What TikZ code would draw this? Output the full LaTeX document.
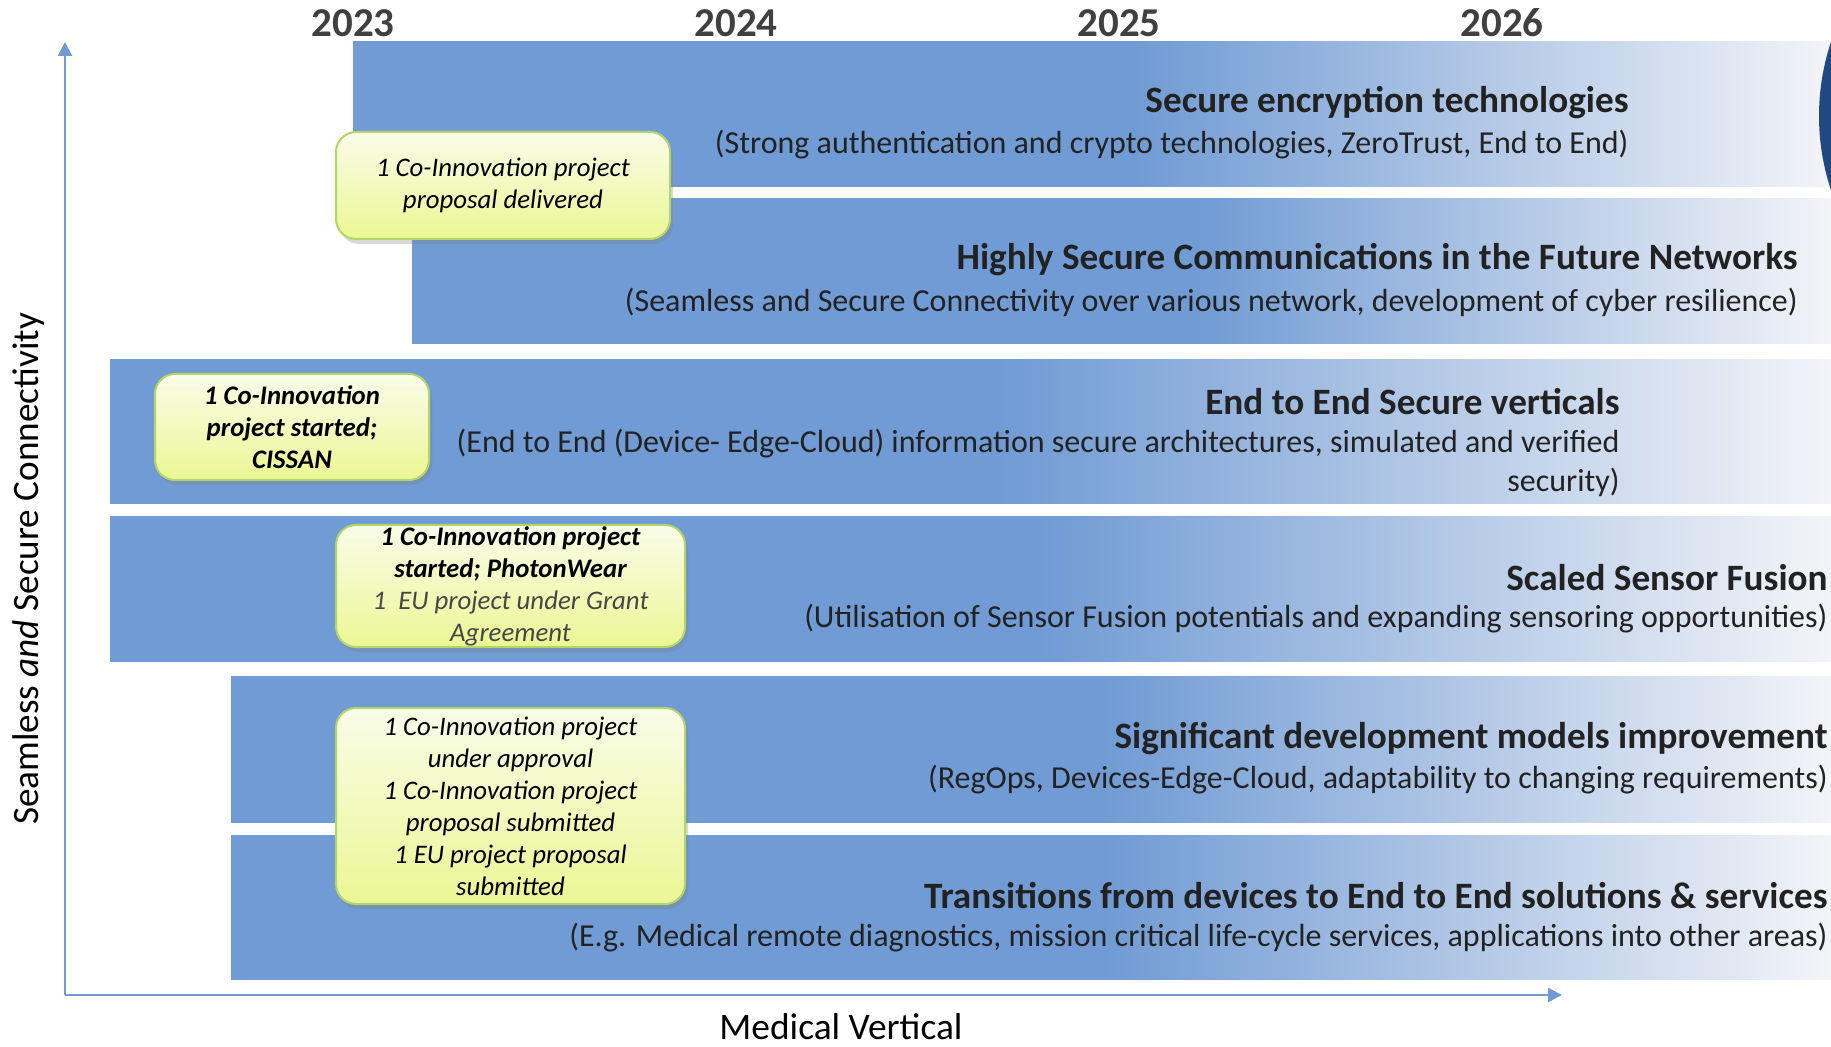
\documentclass[tikz,border=0pt]{standalone}
\usepackage{fontspec}
\setmainfont{Carlito}
\usetikzlibrary{arrows.meta,shadows}

\definecolor{bandblue}{RGB}{112,155,212}
\definecolor{bandlight}{RGB}{243,244,248}
\definecolor{axisblue}{RGB}{111,154,212}
\definecolor{yeargray}{RGB}{64,64,64}
\definecolor{notegreen}{RGB}{178,214,104}
\definecolor{notetop}{RGB}{249,252,232}
\definecolor{notebottom}{RGB}{235,247,148}
\definecolor{darkdisc}{RGB}{33,72,128}
\definecolor{textdark}{RGB}{34,34,34}
\definecolor{notegray}{RGB}{70,70,70}

\tikzset{
  flat/.style={left color=bandblue, right color=bandblue},
  fade/.style={left color=bandblue, right color=bandlight},
  note/.style={draw=notegreen, line width=1pt, rounded corners=10pt,
    top color=notetop, bottom color=notebottom,
    drop shadow={opacity=0.3, shadow xshift=1.5pt, shadow yshift=-2.5pt}},
  notetext/.style={align=center, text=black, inner sep=0pt,
    font=\fontsize{13.4}{16}\selectfont\itshape},
  bandtitle/.style={anchor=east, inner sep=0pt, text=textdark,
    font=\fontsize{18.6}{21}\selectfont\bfseries},
  bandsub/.style={anchor=east, inner sep=0pt, text=textdark, align=right,
    font=\fontsize{16}{19.2}\selectfont},
  year/.style={text=yeargray, font=\fontsize{20.5}{24}\selectfont\bfseries},
  axis/.style={draw=axisblue, line width=1.2pt, -{Triangle[length=7pt,width=7pt]}},
}

\begin{document}
\begin{tikzpicture}[x=0.5pt, y=-0.5pt]
  \useasboundingbox (0,0) rectangle (1831,1047);

  \begin{scope}
    \clip (0,0) rectangle (1831,1047);
    \shade[flat] (353,42) rectangle (1135,187);
    \shade[fade] (1134,42) rectangle (1831,187);
    \shade[flat] (412,199) rectangle (1198,344);
    \shade[fade] (1197,199) rectangle (1831,344);
    \shade[flat] (110,360) rectangle (1001,504);
    \shade[fade] (1000,360) rectangle (1831,504);
    \shade[flat] (110,517) rectangle (1041,661);
    \shade[fade] (1040,517) rectangle (1831,661);
    \shade[flat] (231,676) rectangle (1103,822);
    \shade[fade] (1102,676) rectangle (1831,822);
    \shade[flat] (231,835) rectangle (1106,979);
    \shade[fade] (1105,835) rectangle (1831,979);
    \fill[darkdisc] (2053,116) circle[radius=117pt];
  \end{scope}

  \node[year] (y2023) at (353,23) {2023};
  \node[year] (y2024) at (736,23) {2024};
  \node[year] (y2025) at (1119,23) {2025};
  \node[year] (y2026) at (1502,23) {2026};

  \node[bandtitle] (t1) at (1629,103) {Secure encryption technologies};
  \node[bandsub] (s1) at (1629,145) {(Strong authentication and crypto technologies, ZeroTrust, End to End)};
  \node[bandtitle] (t2) at (1798,260) {Highly Secure Communications in the Future Networks};
  \node[bandsub] (s2) at (1798,302) {(Seamless and Secure Connectivity over various network, development of cyber resilience)};
  \node[bandtitle] (t3) at (1620,402) {End to End Secure verticals};
  \node[bandsub] (s3) at (1620,463) {(End to End (Device- Edge-Cloud) information secure architectures, simulated and verified\\security)};
  \node[bandtitle] (t4) at (1828,578) {Scaled Sensor Fusion};
  \node[bandsub] (s4) at (1828,619) {(Utilisation of Sensor Fusion potentials and expanding sensoring opportunities)};
  \node[bandtitle] (t5) at (1828,739) {Significant development models improvement};
  \node[bandsub] (s5) at (1828,780) {(RegOps, Devices-Edge-Cloud, adaptability to changing requirements)};
  \node[bandtitle] (t6) at (1828,896) {Transitions from devices to End to End solutions \& services};
  \node[bandsub] (s6) at (1828,938) {(E.g. Medical remote diagnostics, mission critical life-cycle services, applications into other areas)};

  \draw[note] (336,132) rectangle (670,239) node[midway, notetext] (noteA) {1 Co-Innovation project\\proposal delivered};
  \draw[note] (155,374) rectangle (429,480) node[midway, notetext, font=\fontsize{13.4}{16}\selectfont\bfseries\itshape] (noteB) {1 Co-Innovation\\project started;\\CISSAN};
  \draw[note] (336,525) rectangle (685,647) node[midway, notetext] (noteC) {\textbf{1 Co-Innovation project}\\\textbf{started; PhotonWear}\\\textcolor{notegray}{1~ EU project under Grant}\\\textcolor{notegray}{Agreement}};
  \draw[note] (336,708) rectangle (685,904) node[midway, notetext] (noteD) {1 Co-Innovation project\\under approval\\1 Co-Innovation project\\proposal submitted\\1 EU project proposal\\submitted};

  \coordinate (origin) at (65,995);
  \coordinate (ytop) at (65,42);
  \coordinate (xend) at (1562,995);
  \draw[axis] (origin) -- (ytop);
  \draw[axis] (origin) -- (xend);

  \node[inner sep=0pt, font=\fontsize{18.7}{21}\selectfont] (xlabel) at (841,1027) {Medical Vertical};
  \node[inner sep=0pt, font=\fontsize{18.6}{21}\selectfont, rotate=90] (ylabel) at (29,569) {Seamless \textit{and} Secure Connectivity};
\end{tikzpicture}
\end{document}
